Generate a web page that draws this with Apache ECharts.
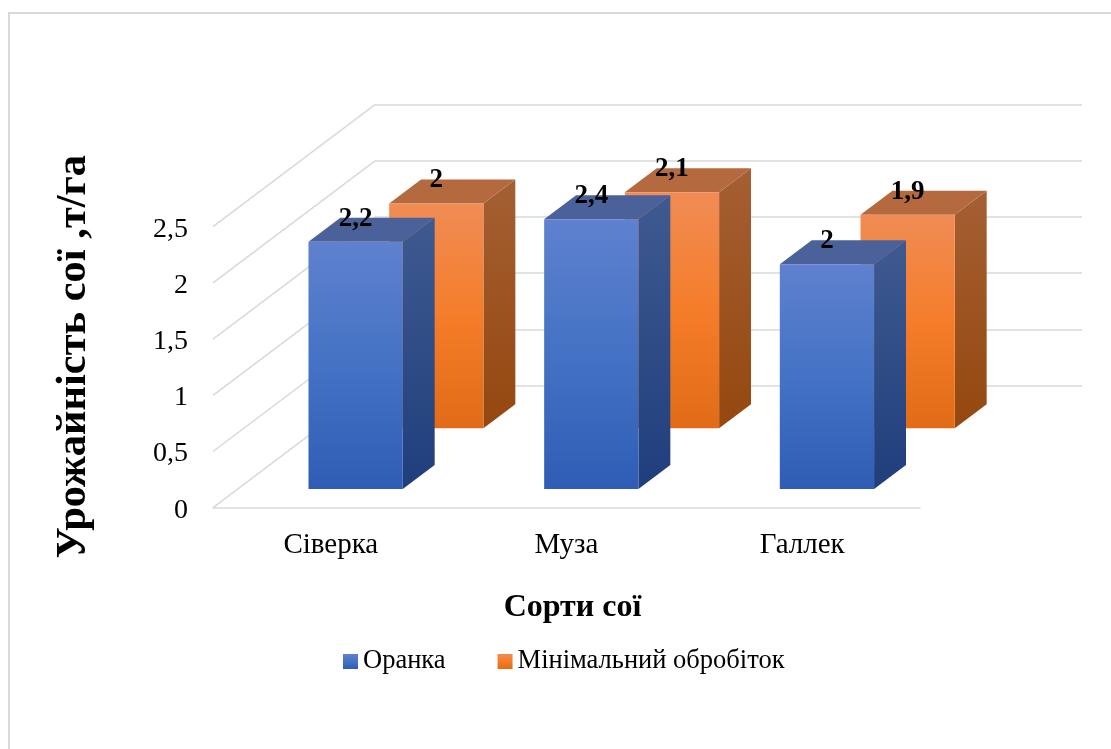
<!DOCTYPE html>
<html>
<head>
<meta charset="utf-8">
<style>html,body{margin:0;padding:0;background:#fff}#chart{width:1111px;height:749px}</style>
<script src="https://cdn.jsdelivr.net/npm/echarts@6/dist/echarts.min.js"></script>
</head>
<body>
<div id="chart"></div>
<script>
// Soybean yield by variety and tillage method, t/ha
const varieties = ['Сіверка', 'Муза', 'Галлек'];
const ploughing = [2.2, 2.4, 2];
const minimalTillage = [2, 2.1, 1.9];
const yTicks = [0, 0.5, 1, 1.5, 2, 2.5];

const SERIF = '"Liberation Serif", "Times New Roman", serif';
const GRID_COLOR = '#d9d9d9';
const chart = echarts.init(document.getElementById('chart'));

// The floor recedes along this vector; a bar sits at a fraction of it.
const FLOOR_DX = 162, FLOOR_DY = -122;
const BAR_DEPTH = 0.197;
const BAR_WIDTH = 0.4;

const vgrad = (...stops) => new echarts.graphic.LinearGradient(0, 0, 0, 1,
  stops.map(([offset, color]) => ({ offset, color })));

const BLUE = {
  front: () => vgrad([0, '#5f81cf'], [0.5, '#4472c4'], [1, '#2f5db5']),
  side: () => vgrad([0, '#3f5a90'], [1, '#1f3e7c']),
  top: '#4a6299'
};
const ORANGE = {
  front: () => vgrad([0, '#f08c55'], [0.5, '#f57d2a'], [1, '#e26b18']),
  side: () => vgrad([0, '#a45f33'], [1, '#95480f']),
  top: '#b5693f'
};

function barRenderer(palette, depthAt) {
  return function (params, api) {
    const cat = api.value(0), val = api.value(1);
    const base = api.coord([cat, 0]), head = api.coord([cat, val]);
    const w = api.size([1, 0])[0] * BAR_WIDTH;
    const ox = FLOOR_DX * depthAt, oy = FLOOR_DY * depthAt;
    const dx = FLOOR_DX * BAR_DEPTH, dy = FLOOR_DY * BAR_DEPTH;
    const l = base[0] + ox - w / 2, r = l + w;
    const b = base[1] + oy, t = head[1] + oy;
    const poly = (points, fill) => ({ type: 'polygon', shape: { points }, style: { fill } });
    return {
      type: 'group',
      children: [
        poly([[r, t], [r + dx, t + dy], [r + dx, b + dy], [r, b]], palette.side()),
        poly([[l, t], [l + dx, t + dy], [r + dx, t + dy], [r, t]], palette.top),
        poly([[l, t], [r, t], [r, b], [l, b]], palette.front()),
        {
          type: 'text',
          z2: 10,
          style: {
            x: (l + r) / 2,
            y: t + dy + 1,
            text: String(val).replace('.', ','),
            textAlign: 'center',
            textVerticalAlign: 'middle',
            font: 'bold 27px ' + SERIF,
            fill: '#000'
          }
        }
      ]
    };
  };
}

const barData = values => values.map((v, i) => [i, v]);

// Receding gridlines on the left wall, one per y tick
function sideWallLine(params, api) {
  const v = api.value(0);
  const y = api.coord([0, v])[1];
  const x = params.coordSys.x;
  return {
    type: 'line',
    shape: { x1: x, y1: y, x2: x + FLOOR_DX, y2: y + FLOOR_DY },
    style: { stroke: GRID_COLOR, lineWidth: 1.5 }
  };
}

chart.setOption({
  animation: false,
  backgroundColor: '#fff',
  grid: [
    { left: 213, top: 226.7, width: 707, height: 281 },
    { left: 375, top: 104.5, width: 707, height: 281 }
  ],
  xAxis: [
    {
      type: 'category', gridIndex: 0, data: varieties,
      axisLine: { lineStyle: { color: GRID_COLOR, width: 1.5 } },
      axisTick: { show: false },
      axisLabel: { color: '#000', fontFamily: SERIF, fontSize: 29, margin: 23 },
      name: 'Сорти сої', nameLocation: 'middle', nameGap: 84,
      nameTextStyle: { color: '#000', fontFamily: SERIF, fontSize: 32, fontWeight: 'bold', padding: [0, 0, 0, 12] }
    },
    { type: 'category', gridIndex: 1, data: varieties, show: false }
  ],
  yAxis: [
    {
      type: 'value', gridIndex: 0, min: 0, max: 2.5, interval: 0.5,
      axisLine: { show: false }, axisTick: { show: false }, splitLine: { show: false },
      axisLabel: {
        color: '#000', fontFamily: SERIF, fontSize: 28, margin: 25,
        formatter: v => '{t|' + String(v).replace('.', ',') + '}',
        rich: { t: { color: '#000', fontFamily: SERIF, fontSize: 28, padding: [5, 0, 0, 0] } }
      },
      name: 'Урожайність сої ,т/га', nameLocation: 'middle', nameGap: 117,
      nameTextStyle: { color: '#000', fontFamily: SERIF, fontSize: 42.5, fontWeight: 'bold', padding: [0, 0, 0, 21] }
    },
    {
      type: 'value', gridIndex: 1, min: 0, max: 2.5, interval: 0.5,
      axisLine: { show: false }, axisTick: { show: false }, axisLabel: { show: false },
      splitLine: { lineStyle: { color: GRID_COLOR, width: 1.5 } }
    }
  ],
  legend: {
    left: 338, top: 643,
    data: ['Оранка', 'Мінімальний обробіток'],
    icon: 'rect', itemWidth: 15, itemHeight: 15, itemGap: 52,
    textStyle: { color: '#000', fontFamily: SERIF, fontSize: 26.5 }
  },
  // Frame runs along the top and left edges only
  graphic: [{
    type: 'polyline', silent: true, z: -1,
    shape: { points: [[9, 749], [9, 13], [1111, 13]] },
    style: { fill: 'none', stroke: GRID_COLOR, lineWidth: 2 }
  }],
  series: [
    {
      type: 'custom', name: 'wall', xAxisIndex: 0, yAxisIndex: 0, silent: true,
      data: yTicks.map(v => [v]), encode: { y: 0 },
      renderItem: sideWallLine, z: 1
    },
    {
      type: 'custom', name: 'Мінімальний обробіток', xAxisIndex: 0, yAxisIndex: 0,
      data: barData(minimalTillage), encode: { x: 0, y: 1 },
      itemStyle: { color: ORANGE.front() },
      renderItem: barRenderer(ORANGE, 0.651), z: 3
    },
    {
      type: 'custom', name: 'Оранка', xAxisIndex: 0, yAxisIndex: 0,
      data: barData(ploughing), encode: { x: 0, y: 1 },
      itemStyle: { color: BLUE.front() },
      renderItem: barRenderer(BLUE, 0.153), z: 4
    }
  ]
});
</script>
</body>
</html>
